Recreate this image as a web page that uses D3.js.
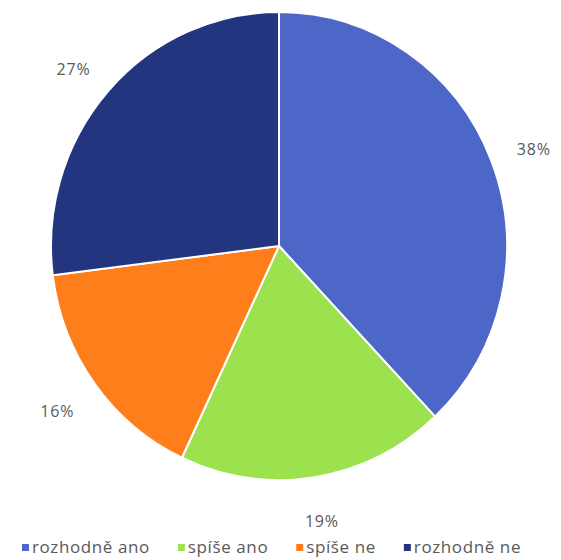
<!DOCTYPE html>
<html>
<head>
<meta charset="utf-8">
<script src="https://cdn.jsdelivr.net/npm/d3@7/dist/d3.min.js"></script>
<style>
  html, body { margin: 0; padding: 0; background: #ffffff; }
  svg { display: block; }
</style>
</head>
<body>
<svg id="chart" width="561" height="560"></svg>
<script>
// Survey answers and their shares (percent)
const categories = ["rozhodně ano", "spíše ano", "spíše ne", "rozhodně ne"];
const values = [38, 19, 16, 27];
const colors = ["#4d67c9", "#9be24e", "#fd7e1b", "#23357f"];

const width = 561, height = 560;
const cx = 279, cy = 246;
const rx = 228, ry = 234;   // pie is drawn slightly taller than wide
const labelR = 274;
const fontFamily = "'Open Sans', sans-serif";

const svg = d3.select("#chart");

const pie = d3.pie().sort(null).value(d => d.value);
const data = categories.map((c, i) => ({ name: c, value: values[i], color: colors[i] }));
const arcs = pie(data);

const arc = d3.arc().innerRadius(0).outerRadius(rx);

const g = svg.append("g")
  .attr("transform", `translate(${cx},${cy}) scale(1,${ry / rx})`);

g.selectAll("path")
  .data(arcs)
  .join("path")
  .attr("d", arc)
  .attr("fill", d => d.data.color)
  .attr("stroke", "#ffffff")
  .attr("stroke-width", 2)
  .attr("vector-effect", "non-scaling-stroke")
  .attr("stroke-linejoin", "round");

// Percentage labels outside the slices
const labelArc = d3.arc().innerRadius(labelR).outerRadius(labelR);
svg.selectAll("text.pct")
  .data(arcs)
  .join("text")
  .attr("class", "pct")
  .attr("transform", d => {
    const [x, y] = labelArc.centroid(d);
    return `translate(${cx + x},${cy + y + 6})`;
  })
  .attr("text-anchor", "middle")
  .attr("dominant-baseline", "middle")
  .attr("font-family", fontFamily)
  .attr("font-size", 16)
  .attr("letter-spacing", 0.8)
  .attr("fill", "#595959")
  .text(d => d.data.value + "%");

// Legend along the bottom
const legend = svg.append("g").attr("transform", "translate(0,548)");
const items = legend.selectAll("g")
  .data(data)
  .join("g");

items.append("rect")
  .attr("width", 7)
  .attr("height", 7)
  .attr("y", -4)
  .attr("fill", d => d.color);

items.append("text")
  .attr("x", 10)
  .attr("y", 0)
  .attr("dominant-baseline", "middle")
  .attr("font-family", fontFamily)
  .attr("font-size", 17)
  .attr("letter-spacing", 0.6)
  .attr("fill", "#595959")
  .text(d => d.name);

// Lay items out in a row, sitting a little left of centre
const gap = 28;
let widths = [];
items.each(function () { widths.push(this.getBBox().width); });
const total = d3.sum(widths) + gap * (widths.length - 1);
let x0 = (width - total) / 2 - 9;
items.attr("transform", (d, i) => {
  const t = `translate(${x0},0)`;
  x0 += widths[i] + gap;
  return t;
});
</script>
</body>
</html>
